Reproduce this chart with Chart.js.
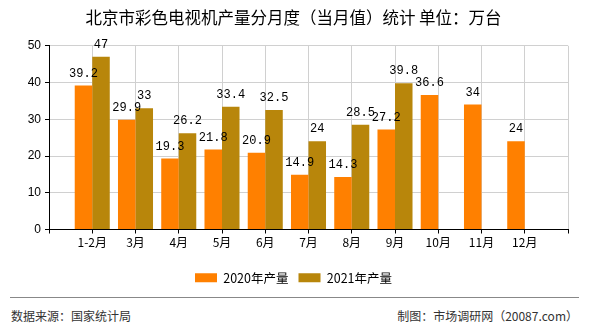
<html>
<head>
<meta charset="utf-8">
<script src="https://cdn.jsdelivr.net/npm/chart.js@4/dist/chart.umd.min.js"></script>
<style>
body {margin:0; background:#fff;}
#wrap {position:relative; width:590px; height:330px; font-family:"Noto Sans CJK SC", sans-serif;}
#canvas {position:absolute; left:0; top:0;}
.foot {position:absolute; top:307px; font-size:12px; color:#333; line-height:17px;}
#line {position:absolute; left:10px; top:297px; width:569px; height:1px; background:#888;}
</style>
</head>
<body>
<div id="wrap">
  <canvas id="canvas" width="590" height="294" style="width:590px;height:294px;"></canvas>
  <div id="line"></div>
  <div class="foot" style="left:11px;">数据来源：国家统计局</div>
  <div class="foot" style="right:12px;">制图：市场调研网（20087.com）</div>
</div>
<script>
// months shown on the x axis
var months = ['1-2月','3月','4月','5月','6月','7月','8月','9月','10月','11月','12月'];
// production, 10k units
var y2020 = [39.2, 29.9, 19.3, 21.8, 20.9, 14.9, 14.3, 27.2, 36.6, 34, 24];
var y2021 = [47, 33, 26.2, 33.4, 32.5, 24, 28.5, 39.8, null, null, null];
var yTicks = [0, 10, 20, 30, 40, 50];

// empty slot at both ends so the months sit on the grid lines
var labels = [''].concat(months, ['']);
function pad(arr) { return [null].concat(arr, [null]); }

var valueLabels = {
  id: 'valueLabels',
  afterDatasetsDraw: function(chart) {
    var ctx = chart.ctx;
    ctx.save();
    ctx.font = '12px "Liberation Mono", monospace';
    ctx.fillStyle = '#000';
    ctx.textAlign = 'center';
    ctx.textBaseline = 'bottom';
    chart.data.datasets.forEach(function(ds, i) {
      chart.getDatasetMeta(i).data.forEach(function(bar, j) {
        var v = ds.data[j];
        if (v == null) return;
        ctx.fillText(String(v), bar.x, bar.y - 6);
      });
    });
    ctx.restore();
  }
};

var ctx = document.getElementById('canvas').getContext('2d');
new Chart(ctx, {
  type: 'bar',
  data: {
    labels: labels,
    datasets: [
      {label: '2020年产量', data: pad(y2020), backgroundColor: '#FF8000', categoryPercentage: 0.81, barPercentage: 1},
      {label: '2021年产量', data: pad(y2021), backgroundColor: '#B8860B', categoryPercentage: 0.81, barPercentage: 1}
    ]
  },
  options: {
    responsive: false,
    animation: false,
    layout: {padding: {left: 19, right: 22, top: 0, bottom: 0}},
    plugins: {
      title: {
        display: true,
        text: '北京市彩色电视机产量分月度（当月值）统计 单位：万台',
        color: '#000',
        font: {family: '"Noto Sans CJK SC"', size: 16.5, weight: 'normal'},
        padding: {top: 8, bottom: 18}
      },
      legend: {
        position: 'bottom',
        labels: {
          boxWidth: 22, boxHeight: 9, color: '#000',
          font: {family: '"Noto Sans CJK SC"', size: 12.5}
        }
      },
      tooltip: {enabled: false}
    },
    scales: {
      x: {
        offset: false,
        grid: {color: '#d0d0d0', tickColor: '#000', tickLength: 4, offset: false},
        border: {color: '#000'},
        ticks: {color: '#000', autoSkip: false, maxRotation: 0, font: {family: '"Noto Sans CJK SC"', size: 12}, padding: 2},
        afterFit: function(s) { s.height = 32; }
      },
      y: {
        min: 0, max: 50,
        afterBuildTicks: function(s) { s.ticks = yTicks.map(function(v){ return {value: v}; }); },
        grid: {color: '#d0d0d0', tickColor: '#000', tickLength: 4},
        border: {color: '#000'},
        ticks: {color: '#000', font: {family: '"Liberation Sans"', size: 12}, padding: 4},
        afterFit: function(s) { s.width = 30; }
      }
    }
  },
  plugins: [valueLabels]
});
</script>
</body>
</html>
